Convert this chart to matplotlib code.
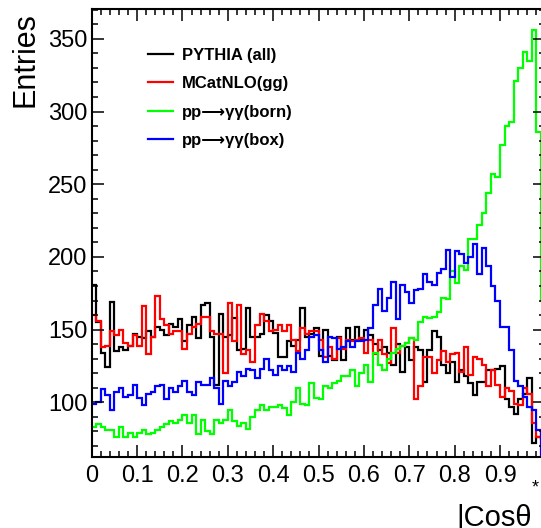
import numpy as np
import matplotlib.pyplot as plt
from matplotlib.ticker import MultipleLocator

# |cos theta*| histograms, 100 bins between 0 and 1
edges = np.linspace(0.0, 1.0, 101)

pythia_all = [181, 155, 134, 124, 169, 135, 138, 136, 139, 147,
              145, 144, 149, 145, 152, 150, 146, 154, 152, 157,
              142, 153, 159, 144, 167, 168, 145, 112, 161, 145,
              146, 158, 136, 137, 165, 145, 145, 147, 160, 156,
              148, 131, 131, 142, 139, 143, 165, 145, 147, 151,
              132, 150, 132, 129, 145, 129, 151, 143, 152, 143,
              150, 146, 140, 136, 138, 134, 126, 140, 121, 138,
              129, 138, 136, 114, 136, 149, 145, 126, 120, 128,
              114, 122, 118, 113, 105, 114, 114, 122, 122, 123,
              125, 102, 97, 92, 102, 106, 117, 72, 76, 75]

mcatnlo_gg = [160, 156, 138, 139, 149, 146, 150, 141, 139, 146,
              139, 166, 133, 145, 173, 157, 153, 147, 149, 149,
              137, 147, 152, 154, 159, 159, 149, 147, 147, 120,
              168, 142, 167, 133, 136, 128, 153, 161, 156, 149,
              150, 153, 149, 153, 143, 135, 151, 147, 149, 149,
              143, 131, 138, 130, 144, 137, 143, 142, 143, 144,
              134, 143, 133, 143, 133, 127, 151, 134, 139, 141,
              144, 102, 111, 131, 131, 120, 129, 135, 128, 133,
              134, 121, 138, 119, 131, 130, 126, 111, 122, 112,
              104, 110, 108, 99, 98, 110, 106, 86, 76, 80]

born = [83, 85, 83, 81, 81, 76, 83, 76, 79, 76,
        79, 81, 78, 79, 81, 83, 85, 87, 86, 88,
        91, 86, 91, 78, 88, 80, 78, 88, 86, 88,
        95, 87, 84, 86, 82, 90, 95, 98, 95, 97,
        97, 98, 96, 91, 100, 110, 99, 98, 113, 103,
        102, 111, 110, 113, 115, 118, 118, 122, 111, 120,
        126, 114, 134, 126, 122, 130, 134, 137, 139, 141,
        144, 143, 155, 159, 158, 159, 162, 172, 171, 190,
        182, 194, 191, 212, 212, 222, 230, 244, 257, 255,
        277, 290, 293, 321, 330, 341, 335, 356, 286, 170]

box = [99, 100, 109, 105, 95, 107, 110, 104, 105, 112,
       103, 98, 106, 107, 111, 112, 102, 110, 107, 111,
       115, 107, 105, 114, 112, 112, 117, 110, 99, 115,
       111, 114, 121, 118, 123, 122, 117, 123, 130, 122,
       119, 125, 122, 125, 121, 134, 130, 136, 145, 146,
       136, 128, 145, 144, 137, 138, 142, 138, 142, 142,
       143, 151, 167, 178, 163, 172, 183, 157, 181, 176,
       168, 177, 178, 188, 183, 181, 189, 192, 205, 186,
       204, 202, 196, 200, 209, 188, 206, 194, 180, 170,
       152, 152, 136, 115, 111, 104, 97, 95, 81, 60]

labels = ['PYTHIA (all)', 'MCatNLO(gg)', 'pp\u27f6\u03b3\u03b3(born)', 'pp\u27f6\u03b3\u03b3(box)']
colors = ['black', '#ff0000', '#00ff00', '#0000ff']

xticks = [0, 0.1, 0.2, 0.3, 0.4, 0.5, 0.6, 0.7, 0.8, 0.9]
xticklabels = ['0', '0.1', '0.2', '0.3', '0.4', '0.5', '0.6', '0.7', '0.8', '0.9']
yticks = [100, 150, 200, 250, 300, 350]

plt.rcParams['font.family'] = ['Liberation Sans', 'DejaVu Sans']

W, H = 541, 528
fig = plt.figure(figsize=(W / 100, H / 100), dpi=100)
# frame runs a little past the right edge of the canvas
ax = fig.add_axes([91.7 / W, 71 / H, (545.4 - 91.7) / W, (457 - 9) / H])

for vals, lab, col in zip([pythia_all, mcatnlo_gg, born, box], labels, colors):
    ax.stairs(vals, edges, baseline=None, color=col, lw=1.6, label=lab)

ax.set_xlim(0, 1)
ax.set_ylim(62.4, 370.5)
ax.set_xticks(xticks)
ax.set_xticklabels(xticklabels)
ax.set_yticks(yticks)
ax.xaxis.set_minor_locator(MultipleLocator(0.02))
ax.yaxis.set_minor_locator(MultipleLocator(10))
ax.tick_params(which='both', direction='in', top=True, right=True,
               width=1.1, labelsize=17)
ax.tick_params(which='major', length=8.5)
ax.tick_params(which='minor', length=4)
ax.tick_params(axis='x', pad=6)
ax.tick_params(axis='y', pad=3)
for sp in ax.spines.values():
    sp.set_linewidth(1.5)

fig.text(25 / W, 1 - 12 / H, 'Entries', rotation=90, ha='center', va='top', fontsize=22)
fig.text(532 / W, 2 / H, '|Cos\u03b8', ha='right', va='baseline', fontsize=21)
fig.text(535.5 / W, 1 - 488 / H, '*', ha='center', va='center', fontsize=13)

ax.legend(loc='upper left', bbox_to_anchor=(148 / W, 1 - 48 / H),
          bbox_transform=fig.transFigure, frameon=False, borderpad=0,
          borderaxespad=0, handlelength=1.5, handletextpad=0.55,
          labelspacing=0.8, prop={'weight': 'bold', 'size': 12})

fig.savefig('out.png', dpi=100)
